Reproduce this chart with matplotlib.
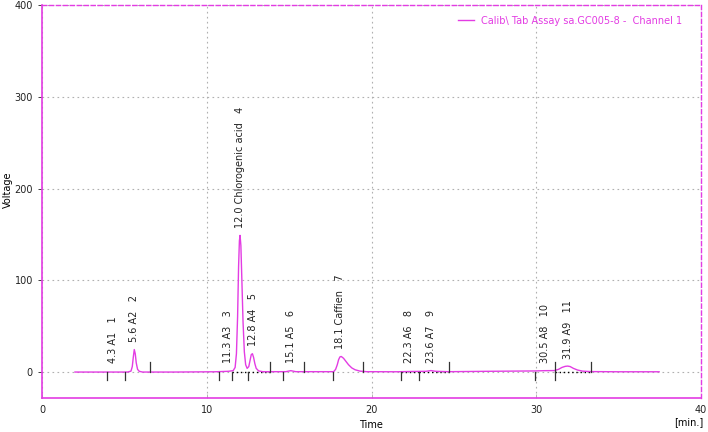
import numpy as np
import matplotlib
matplotlib.use("Agg")
import matplotlib.pyplot as plt

# trace (time [min], voltage)
trace_t = [2.0, 4.0, 5.2, 5.4, 5.48, 5.54, 5.6, 5.66, 5.72, 5.8, 5.9, 6.1, 8.0, 10.5, 11.3, 11.6,
           11.72, 11.8, 11.87, 11.93, 11.98, 12.02, 12.07, 12.13, 12.2, 12.28, 12.36, 12.45, 12.55,
           12.63, 12.7, 12.77, 12.84, 12.92, 13.0, 13.15, 13.4, 14.8, 15.1, 15.4, 17.7, 17.82,
           17.92, 18.0, 18.08, 18.16, 18.3, 18.45, 18.6, 18.8, 19.0, 19.3, 19.7, 21.5, 22.3,
           23.3, 23.6, 23.9, 24.7, 27.0, 29.9, 30.5, 31.1, 31.35, 31.55, 31.75, 31.9, 32.05,
           32.25, 32.5, 32.8, 33.3, 35.0, 37.45]
trace_v = [0.0, 0.0, 0.0, 1.0, 6.0, 16.0, 24.5, 20.0, 10.0, 3.0, 0.8, 0.0, 0.0, 0.3, 0.8, 1.5,
           5.0, 20.0, 60.0, 115.0, 143.0, 149.0, 138.0, 100.0, 55.0, 22.0, 8.0, 4.0, 6.0,
           13.0, 19.0, 20.0, 16.0, 9.0, 4.0, 1.2, 0.4, 0.4, 1.5, 0.4, 0.4, 3.0,
           8.0, 13.5, 16.5, 17.0, 15.0, 11.5, 8.0, 4.5, 2.5, 1.0, 0.4, 0.3, 0.6,
           0.8, 1.6, 0.8, 0.4, 0.8, 1.2, 1.5, 1.6, 3.0, 5.0, 6.2, 6.5, 6.0,
           4.0, 2.2, 1.0, 0.5, 0.3, 0.3]

# peak annotations
peak_rt = [4.3, 5.6, 11.3, 12.0, 12.8, 15.1, 18.1, 22.3, 23.6, 30.5, 31.9]
peak_names = ["A1", "A2", "A3", "Chlorogenic acid", "A4", "A5", "Caffien", "A6", "A7", "A8", "A9"]
peak_top = [0.0, 25.0, 1.0, 149.0, 20.0, 1.5, 17.0, 0.6, 1.6, 1.5, 6.5]

# integration start / end markers
marks_below = [3.97, 5.05, 10.75, 11.55, 12.5, 14.6, 17.65, 21.8, 22.9, 29.9, 31.15]
marks_above = [6.57, 13.85, 15.9, 19.5, 24.7, 31.15, 33.3]
# integration baselines (start, end)
base_start = [11.55, 12.5, 21.8, 22.9, 31.15]
base_end = [12.5, 13.85, 22.9, 24.7, 33.3]

mag = "#e33ce3"

fig = plt.figure(figsize=(7.08, 4.32), dpi=100)
ax = fig.add_axes([0.0593, 0.0787, 0.931, 0.9093])

ax.set_xlim(0, 40)
ax.set_ylim(-28.3, 400)
ax.set_xticks([0, 10, 20, 30, 40])
ax.set_yticks([0, 100, 200, 300, 400])
ax.grid(True, color="#b0b0b0", linestyle=(0, (1.5, 3)), linewidth=0.8)
ax.set_axisbelow(True)

for i in range(len(base_start)):
    ax.plot([base_start[i], base_end[i]], [0, 0], color="black", linestyle=(0, (1, 2)), linewidth=1.0)

ax.plot(trace_t, trace_v, color=mag, linewidth=1.0, label="Calib\\ Tab Assay sa.GC005-8 -  Channel 1")

for x in marks_below:
    ax.plot([x, x], [0, -9], color="#333333", linewidth=0.9)
for x in marks_above:
    ax.plot([x, x], [0, 11], color="#333333", linewidth=0.9)

for i in range(len(peak_rt)):
    txt = "%.1f %s   %d" % (peak_rt[i], peak_names[i], i + 1)
    ax.text(peak_rt[i], max(peak_top[i], 1.5) + 8, txt, rotation=90, ha="center", va="bottom",
            fontsize=7, color="#222222")

for side in ["left", "bottom"]:
    ax.spines[side].set_color(mag)
    ax.spines[side].set_linewidth(1.2)
for side in ["top", "right"]:
    ax.spines[side].set_color(mag)
    ax.spines[side].set_linestyle((0, (3, 2)))
    ax.spines[side].set_linewidth(1.0)

ax.tick_params(axis="both", labelsize=7, colors="#222222", length=3, width=0.6)
ax.tick_params(axis="x", direction="in", color="#aaaaaa", pad=5)

fig.text(371 / 708, 1 - 425 / 432, "Time", ha="center", va="center", fontsize=7)
fig.text(8 / 708, 1 - 190 / 432, "Voltage", ha="center", va="center", rotation=90, fontsize=7)
fig.text(703 / 708, 1 - 422 / 432, "[min.]", ha="right", va="center", fontsize=7)

leg = ax.legend(loc="upper right", frameon=False, fontsize=7, handlelength=1.6,
                bbox_to_anchor=(0.985, 0.995))
for t in leg.get_texts():
    t.set_color(mag)

fig.savefig("out.png", dpi=100)
